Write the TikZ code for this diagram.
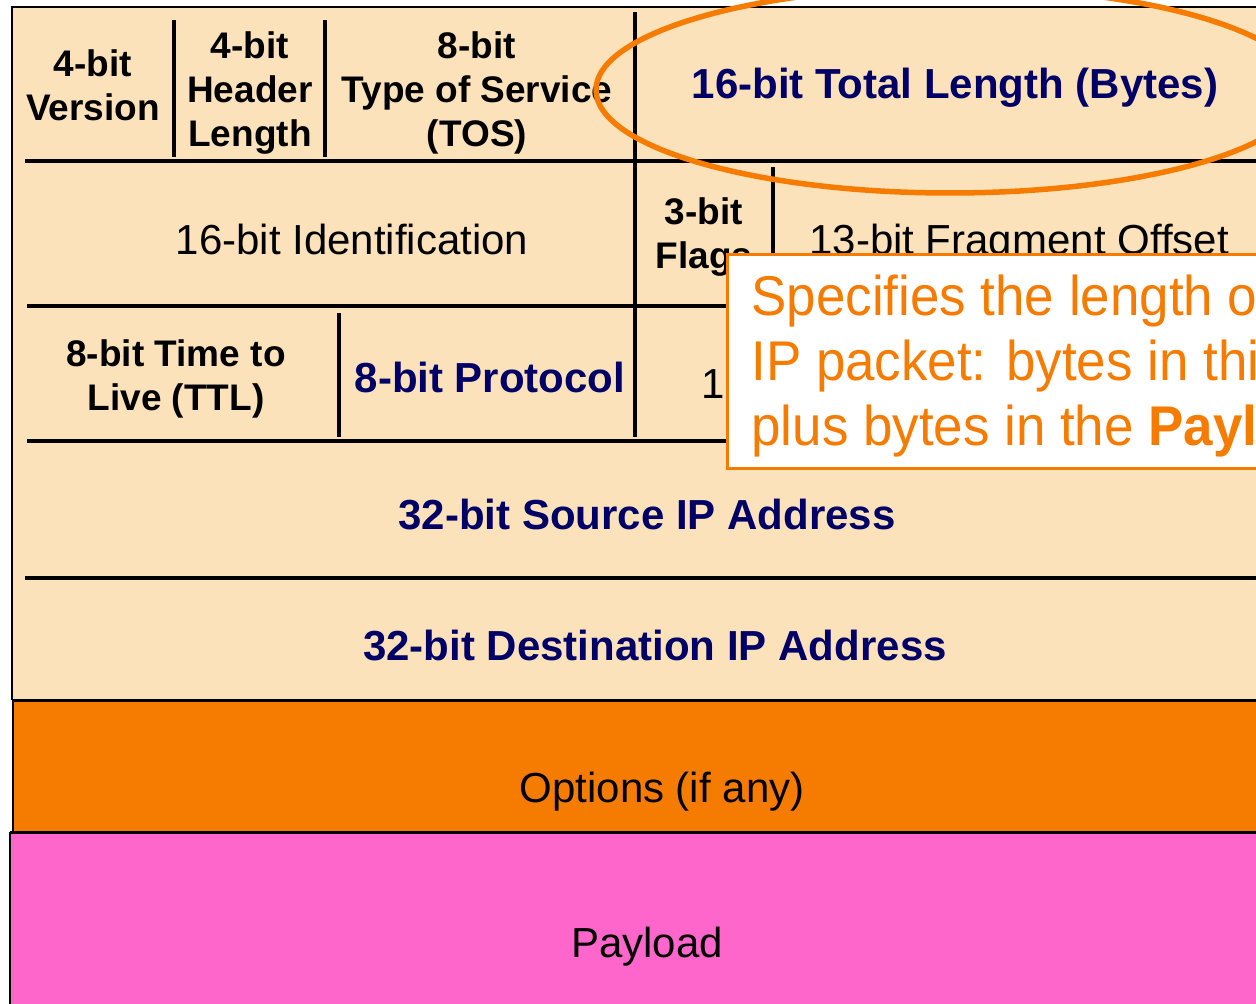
\documentclass[tikz,border=0pt]{standalone}
\usepackage{fontspec}
\setmainfont{Liberation Sans}
\newfontfamily\calloutfont[FakeStretch=0.945]{Liberation Sans}
\usetikzlibrary{shapes.geometric}
\definecolor{cream}{HTML}{FCE2BB}
\definecolor{navy}{HTML}{000066}
\definecolor{iporange}{HTML}{F57C00}
\definecolor{pinkpay}{HTML}{FF66CC}
\tikzset{
  sep/.style={line width=2pt, black},
  frame/.style={line width=1pt, black},
  small/.style={font=\fontsize{18.5pt}{22pt}\selectfont\bfseries, align=center, inner sep=0pt},
  big/.style={font=\fontsize{21pt}{25pt}\selectfont, align=center, inner sep=0pt},
  bigb/.style={font=\fontsize{21pt}{25pt}\selectfont\bfseries, align=center, inner sep=0pt, text=navy},
}
\begin{document}
\begin{tikzpicture}[x=0.5pt,y=-0.5pt]
\useasboundingbox (0,0) rectangle (1256,1004);
\clip (0,0) rectangle (1256,1004);
\fill[white] (0,0) rectangle (1256,1004);
% header background
\fill[cream] (12,7) rectangle (1300,700);
\draw[frame] (1300,7) -- (12,7) -- (12,700);
% options
\fill[iporange] (13,700) rectangle (1300,832);
\draw[frame] (13,700) -- (13,832);
\draw[line width=1.5pt] (13,700) -- (1300,700);
% payload
\fill[pinkpay] (10,832) rectangle (1300,1010);
\draw[frame] (10,832) -- (10,1010);
\draw[line width=1.5pt] (10,832) -- (1300,832);
% row separators
\draw[sep] (25,161) -- (1300,161);
\draw[sep] (27,306) -- (1300,306);
\draw[sep] (27,441) -- (1300,441);
\draw[sep] (25,578) -- (1300,578);
% vertical separators
\draw[sep] (174,20) -- (174,157);
\draw[sep] (325,20) -- (325,157);
\draw[sep] (635,12) -- (635,437);
\draw[sep] (773,167) -- (773,302);
\draw[sep] (339,313) -- (339,437);
% row 1
\node[small] (ver) at (93,85) {4-bit\\Version};
\node[small] (hlen) at (250,93) {4-bit\\Header\\Length};
\node[small] (tos) at (477,93) {8-bit\\Type of Service\\(TOS)};
\node[bigb] (tlen) at (955,88) {16-bit Total Length (Bytes)};
% row 2
\node[big] (ident) at (352,239) {16-bit Identification};
\node[small] (flags) at (704,237) {3-bit\\Flags};
\node[big] (frag) at (1019,244) {13-bit Fragment Offset};
% row 3
\node[small] (ttl) at (176,379) {8-bit Time to\\Live (TTL)};
\node[bigb] (proto) at (490,377) {8-bit Protocol};
\node[big, anchor=west] (csum) at (701,383) {16-bit Header Checksum};
% rows 4,5
\node[bigb] (src) at (647,515) {32-bit Source IP Address};
\node[bigb] (dst) at (655,646) {32-bit Destination IP Address};
% options / payload
\node[big] (opt) at (662,792) {Options (if any)};
\node[big] (pay) at (647,947) {Payload};
% highlight ellipse
\draw[iporange, line width=2.75pt] (950,90) ellipse [x radius=354, y radius=103];
% callout
\fill[white] (727,255) rectangle (1300,469);
\draw[iporange, line width=1.5pt] (1300,255) -- (727,255) -- (727,469) -- (1300,469);
\node[anchor=west, align=left, inner sep=0pt, text=iporange,
      font=\fontsize{28pt}{32.5pt}\calloutfont] (note) at (751,366)
  {Specifies the length of the entire\\IP packet: bytes in this header\\plus bytes in the \textbf{Payload}};
\end{tikzpicture}
\end{document}
